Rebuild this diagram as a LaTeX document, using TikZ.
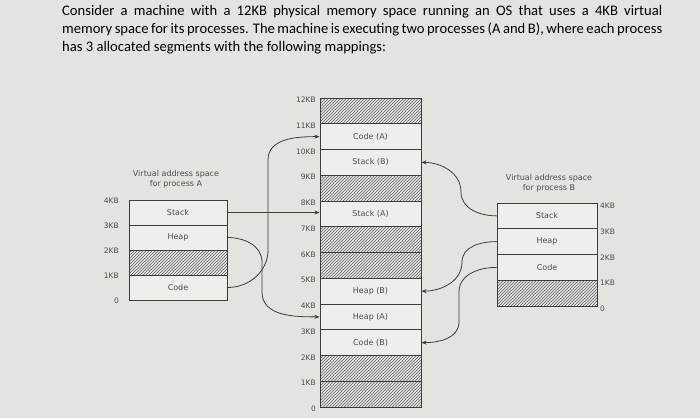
\documentclass[tikz,border=0pt]{standalone}
\usepackage{fontspec}
\setmainfont{Carlito}
\newfontfamily\lblfont{DejaVu Sans}
\usetikzlibrary{patterns,arrows.meta}
\definecolor{bgc}{HTML}{E1E4DF}
\definecolor{ink}{HTML}{3A3D44}
\definecolor{lbl}{HTML}{4A4D55}
\tikzset{
  seg/.style={draw=ink, line width=0.9pt, minimum width=101pt, inner sep=0pt, font=\lblfont\fontsize{8}{9}\selectfont, text=lbl},
  hatch/.style={seg, pattern={north east lines}, pattern color=ink!80},
  kb/.style={font=\lblfont\fontsize{7.5}{9}\selectfont, text=lbl, inner sep=1pt},
  conn/.style={draw=ink, line width=0.8pt, -{Stealth[length=5pt,width=4pt]}},
  ttl/.style={font=\lblfont\fontsize{8}{10}\selectfont, text=lbl, align=center}
}
\begin{document}
\begin{tikzpicture}[x=1pt,y=-1pt]
\fill[bgc] (0,0) rectangle (700,418);
\useasboundingbox (0,0) rectangle (700,418);
\node[anchor=north west, text width=600pt, align=justify, inner sep=0pt, font=\fontsize{14.6}{18}\selectfont, text=black] (q) at (62,5)
 {Consider a machine with a 12KB physical memory space running an OS that uses a 4KB virtual\linebreak memory space for its processes. The machine is executing two processes (A and B), where each process\linebreak has 3 allocated segments with the following mappings:};

% physical memory, 25.75 per KB, top y=98
\foreach \n/\t/\h [count=\i from 0] in {p11/{}/1,pCA/{Code (A)}/0,pSB/{Stack (B)}/0,p8/{}/1,pSA/{Stack (A)}/0,p6/{}/1,p5/{}/1,pHB/{Heap (B)}/0,pHA/{Heap (A)}/0,pCB/{Code (B)}/0,p1/{}/1,p0/{}/1}{
  \ifnum\h=1
    \node[hatch, minimum height=25.75pt] (\n) at (370.5,{98+25.75*\i+12.875}) {};
  \else
    \node[seg, fill=bgc!60!white, minimum height=25.75pt] (\n) at (370.5,{98+25.75*\i+12.875}) {\t};
  \fi
}
\foreach \t [count=\i from 0] in {12KB,11KB,10KB,9KB,8KB,7KB,6KB,5KB,4KB,3KB,2KB,1KB,0}{
  \node[kb, anchor=east] (pl\i) at (317,{100+25.75*\i}) {\t};
}

% process A, 25 per KB, top y=200
\node[ttl] (ta) at (176,179) {Virtual address space\\for process A};
\node[seg, fill=bgc!60!white, minimum width=98pt, minimum height=25pt] (aS) at (178,212.5) {Stack};
\node[seg, fill=bgc!60!white, minimum width=98pt, minimum height=25pt] (aH) at (178,237.5) {Heap};
\node[hatch, minimum width=98pt, minimum height=25pt] (aX) at (178,262.5) {};
\node[seg, fill=bgc!60!white, minimum width=98pt, minimum height=25pt] (aC) at (178,287.5) {Code};
\foreach \t [count=\i from 0] in {4KB,3KB,2KB,1KB,0}{
  \node[kb, anchor=east] (al\i) at (120,{201+25*\i}) {\t};
}

% process B, top y=203
\node[ttl] (tb) at (549,183) {Virtual address space\\for process B};
\node[seg, fill=bgc!60!white, minimum width=100pt, minimum height=25.75pt] (bS) at (547,{203+12.875}) {Stack};
\node[seg, fill=bgc!60!white, minimum width=100pt, minimum height=25.75pt] (bH) at (547,{203+38.625}) {Heap};
\node[seg, fill=bgc!60!white, minimum width=100pt, minimum height=25.75pt] (bC) at (547,{203+64.375}) {Code};
\node[hatch, minimum width=100pt, minimum height=25.75pt] (bX) at (547,{203+90.125}) {};
\foreach \t [count=\i from 0] in {4KB,3KB,2KB,1KB,0}{
  \node[kb, anchor=west] (bl\i) at (599,{206+25.75*\i}) {\t};
}

% bend points of the connectors
\coordinate (c1) at (268,250);
\coordinate (c2) at (268,160);
\coordinate (h1) at (262,262);
\coordinate (h2) at (262,292);
\coordinate (s1) at (461,192);
\coordinate (m1) at (462,262);
\coordinate (d1) at (459,292);
\coordinate (d2) at (459,322);

% connectors
\draw[conn] (aS.east) -- (aS.east -| pSA.west);
\draw[conn] (aH.east) to[out=0,in=90] (h1) -- (h2) to[out=-90,in=180] (pHA.west);
\draw[conn] (aC.east) to[out=0,in=-90] (c1) -- (c2) to[out=90,in=180] (pCA.west);
\draw[conn] (bS.west) to[out=180,in=-90] (s1) to[out=90,in=0] (pSB.east);
\draw[conn] (bH.west) to[out=180,in=90] (m1) to[out=-90,in=0] (pHB.east);
\draw[conn] (bC.west) to[out=180,in=90] (d1) -- (d2) to[out=-90,in=0] (pCB.east);
\end{tikzpicture}
\end{document}
